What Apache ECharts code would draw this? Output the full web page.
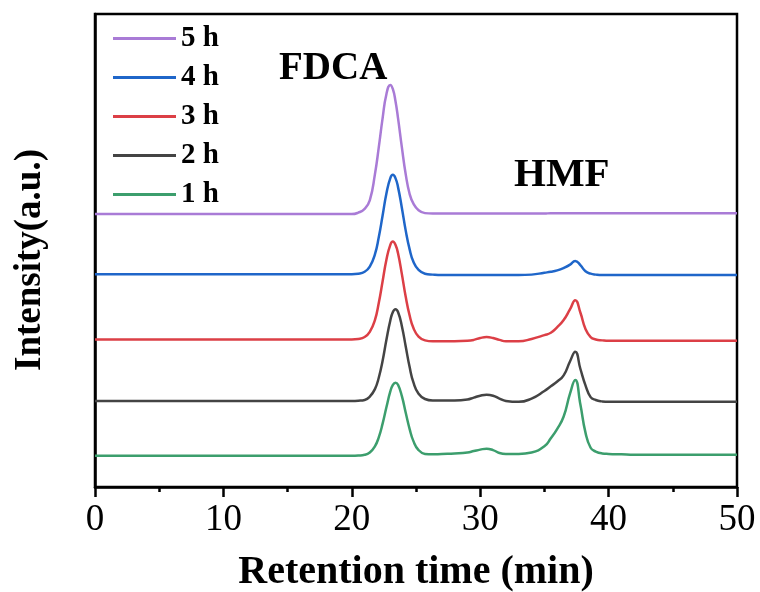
<!DOCTYPE html>
<html>
<head>
<meta charset="utf-8">
<script src="https://cdn.jsdelivr.net/npm/echarts@6/dist/echarts.min.js"></script>
<style>html,body{margin:0;padding:0;background:#fff;}#c{width:760px;height:592px;}</style>
</head>
<body>
<div id="c"></div>
<script>
// Retention time grid (min)
const time = [0, 5, 10, 15, 19, 20, 20.5, 21, 21.4, 21.8, 22.1, 22.4, 22.7, 23.0, 23.2, 23.4, 23.6, 23.9, 24.2, 24.5, 24.8, 25.2, 25.7, 26.3, 27, 28, 29, 29.5, 30, 30.5, 31, 31.5, 32, 33, 34, 35, 35.5, 36, 36.5, 37, 37.4, 37.8, 38.2, 38.6, 39, 39.5, 40, 41, 42, 45, 50];

// Stacked (offset) intensities, a.u.
const h5 = [57.7, 57.7, 57.7, 57.7, 57.7, 57.7, 58.0, 58.8, 60.6, 66.1, 71.8, 78.0, 83.1, 85.0, 84.1, 81.6, 78.0, 71.8, 66.1, 62.0, 59.9, 58.5, 57.9, 57.8, 57.8, 57.8, 57.8, 57.8, 57.8, 57.8, 57.8, 57.8, 57.8, 57.8, 57.8, 57.8, 57.9, 57.9, 57.9, 57.9, 57.9, 57.9, 57.9, 57.9, 57.9, 57.9, 57.9, 57.9, 57.9, 57.9, 57.9];
const h4 = [45.0, 45.0, 45.0, 45.0, 45.0, 45.0, 45.1, 45.5, 46.6, 49.2, 52.8, 57.4, 62.1, 65.3, 66.0, 65.3, 63.4, 59.0, 54.2, 50.3, 47.6, 45.9, 45.1, 44.9, 44.8, 44.8, 44.8, 44.8, 44.8, 44.8, 44.8, 44.8, 44.8, 44.8, 44.9, 45.3, 45.5, 45.8, 46.3, 47.0, 47.8, 46.9, 45.6, 45.1, 44.9, 44.8, 44.8, 44.8, 44.8, 44.8, 44.8];
const h3 = [31.2, 31.2, 31.2, 31.2, 31.2, 31.2, 31.3, 31.7, 32.8, 35.3, 38.9, 43.5, 48.1, 51.2, 51.9, 51.2, 49.4, 45.0, 40.2, 36.3, 33.6, 31.8, 31.0, 30.8, 30.8, 30.8, 30.9, 31.1, 31.5, 31.7, 31.5, 31.1, 30.8, 30.8, 31.3, 32.1, 32.6, 33.8, 35.3, 37.6, 39.5, 36.9, 33.4, 31.7, 31.2, 31.0, 30.9, 30.9, 30.9, 30.9, 30.9];
const h2 = [18.2, 18.2, 18.2, 18.2, 18.2, 18.2, 18.25, 18.4, 19.1, 20.7, 23.1, 26.7, 31.2, 35.2, 37.0, 37.6, 37.0, 34.0, 29.7, 25.4, 22.1, 19.7, 18.6, 18.3, 18.3, 18.3, 18.5, 18.9, 19.3, 19.5, 19.3, 18.7, 18.2, 18.0, 18.7, 20.3, 21.3, 22.3, 23.6, 26.6, 28.6, 25.0, 21.5, 19.0, 18.4, 18.1, 18.0, 18.0, 18.0, 18.0, 18.0];
const h1 = [6.6, 6.6, 6.6, 6.6, 6.6, 6.6, 6.65, 6.8, 7.3, 8.6, 10.5, 13.4, 16.9, 20.2, 21.6, 22.05, 21.6, 19.2, 15.7, 12.3, 9.7, 7.8, 7.0, 6.9, 7.0, 7.1, 7.3, 7.6, 7.9, 8.1, 7.8, 7.2, 7.0, 7.0, 7.3, 8.6, 10.3, 12.3, 14.9, 19.8, 22.6, 17.5, 11.5, 8.3, 7.5, 7.1, 7.0, 6.9, 6.8, 6.8, 6.8];

const seriesNames = ['5 h', '4 h', '3 h', '2 h', '1 h'];
const seriesData = [h5, h4, h3, h2, h1];
const colors = ['#a97bd6', '#1f66c9', '#dc3f46', '#444444', '#3c9e6d'];
const xTicks = [0, 10, 20, 30, 40, 50];

const serif = '"Liberation Serif", "Times New Roman", serif';
const chart = echarts.init(document.getElementById('c'));

const series = seriesNames.map((n, i) => ({
  name: n,
  type: 'line',
  data: time.map((t, k) => [t, seriesData[i][k]]),
  smooth: 0.5,
  symbol: 'none',
  lineStyle: { width: 2.5, color: colors[i] },
  itemStyle: { color: colors[i] },
  z: 10 - i
}));

chart.setOption({
  animation: false,
  backgroundColor: '#fff',
  grid: { left: 95, right: 23, top: 14, bottom: 105, outerBoundsMode: 'none', containLabel: false, show: true, borderColor: '#000', borderWidth: 2.5, backgroundColor: 'transparent' },
  legend: {
    data: seriesNames,
    orient: 'vertical',
    left: 113,
    top: 24,
    padding: 0,
    icon: 'rect',
    itemWidth: 63,
    itemHeight: 3,
    itemGap: 10,
    textStyle: { fontFamily: serif, fontWeight: 'bold', fontSize: 29, color: '#000' }
  },
  xAxis: {
    type: 'value',
    min: xTicks[0],
    max: xTicks[xTicks.length - 1],
    interval: 10,
    name: 'Retention time (min)',
    nameLocation: 'middle',
    nameGap: 66,
    nameTextStyle: { fontFamily: serif, fontWeight: 'bold', fontSize: 40, color: '#000' },
    axisLine: { show: true, onZero: false, lineStyle: { color: '#000', width: 2.5 } },
    axisTick: { show: true, inside: false, length: 10, lineStyle: { color: '#000', width: 2.5 } },
    minorTick: { show: true, splitNumber: 2, length: 5, lineStyle: { color: '#000', width: 2.5 } },
    axisLabel: { fontFamily: serif, fontSize: 37, color: '#000', margin: 15 },
    splitLine: { show: false }
  },
  yAxis: {
    type: 'value',
    min: 0,
    max: 100,
    axisLine: { show: true, lineStyle: { color: '#000', width: 2.5 } },
    axisTick: { show: false },
    axisLabel: { show: false },
    splitLine: { show: false }
  },
  graphic: [
    { type: 'text', x: 30, y: 260, rotation: Math.PI / 2, style: { text: 'Intensity(a.u.)', font: 'bold 37px ' + serif, fill: '#000', textAlign: 'center', textVerticalAlign: 'middle' } },
    { type: 'text', left: 279, top: 49, style: { text: 'FDCA', font: 'bold 39px ' + serif, fill: '#000' } },
    { type: 'text', left: 514, top: 155, style: { text: 'HMF', font: 'bold 41px ' + serif, fill: '#000' } }
  ],
  series: series
});
</script>
</body>
</html>
